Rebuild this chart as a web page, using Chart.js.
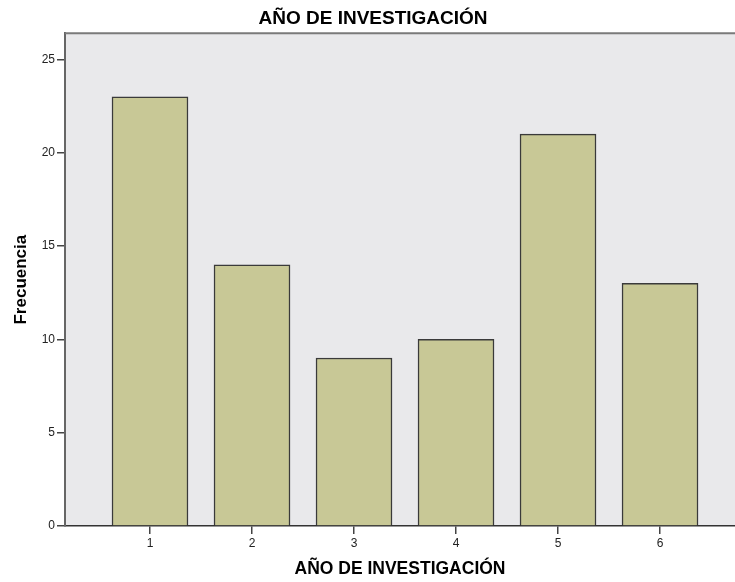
<!DOCTYPE html>
<html>
<head>
<meta charset="utf-8">
<script src="https://cdn.jsdelivr.net/npm/chart.js@4/dist/chart.umd.min.js"></script>
<style>
  html, body { margin: 0; padding: 0; background: #ffffff; }
  canvas { display: block; }
</style>
</head>
<body>
<canvas id="c" width="735" height="582"></canvas>
<script>
const categories = [1, 2, 3, 4, 5, 6];
const frecuencia = [23, 14, 9, 10, 21, 13];
const yTicks = [0, 5, 10, 15, 20, 25];
const chartTitle = 'AÑO DE INVESTIGACIÓN';
const xTitle = 'AÑO DE INVESTIGACIÓN';
const yTitle = 'Frecuencia';

const FONT = "'Liberation Sans', Arial, sans-serif";

const framePlugin = {
  id: 'frame',
  beforeDraw(chart) {
    const {ctx, chartArea: a} = chart;
    ctx.save();
    ctx.fillStyle = '#e9e9eb';
    ctx.fillRect(a.left, a.top, a.right - a.left, a.bottom - a.top);
    ctx.restore();
  },
  afterDraw(chart) {
    const {ctx, chartArea: a} = chart;
    ctx.save();
    ctx.strokeStyle = '#7a7a7a';
    ctx.lineWidth = 2;
    ctx.beginPath();
    ctx.moveTo(a.left, a.top);
    ctx.lineTo(a.right, a.top);
    ctx.stroke();
    ctx.restore();
  }
};

new Chart(document.getElementById('c'), {
  type: 'bar',
  data: {
    datasets: [{
      data: categories.map((c, i) => ({x: c, y: frecuencia[i]})),
      backgroundColor: '#c8c896',
      borderColor: '#3a3a3a',
      borderWidth: 1.5,
      barThickness: 76
    }]
  },
  options: {
    responsive: false,
    animation: false,
    devicePixelRatio: 1,
    layout: { padding: { left: 11, right: 0, top: 0, bottom: 0 } },
    plugins: {
      legend: { display: false },
      tooltip: { enabled: false },
      title: {
        display: true,
        text: chartTitle,
        color: '#000',
        font: { family: FONT, size: 19, weight: 'bold', lineHeight: 1.2 },
        padding: { top: 7, bottom: 3.5 }
      }
    },
    scales: {
      x: {
        type: 'linear',
        min: 0.1667,
        max: 6.735,
        offset: false,
        afterFit(s) { s.height = 56; },
        afterBuildTicks(s) { s.ticks = categories.map(v => ({value: v})); },
        grid: { display: true, offset: false, drawOnChartArea: false, tickLength: 8, color: '#444', lineWidth: 1.5 },
        border: { display: true, color: '#333', width: 1.5 },
        ticks: { color: '#222', font: { family: FONT, size: 12 }, padding: 2 },
        title: {
          display: true,
          text: xTitle,
          color: '#000',
          font: { family: FONT, size: 17.5, weight: 'bold', lineHeight: 1.2 },
          padding: { top: 0, bottom: 2 }
        }
      },
      y: {
        min: 0,
        max: 26.4,
        afterFit(s) { s.width = 54; },
        afterBuildTicks(s) { s.ticks = yTicks.map(v => ({value: v})); },
        grid: { display: true, drawOnChartArea: false, tickLength: 8, color: '#444', lineWidth: 1.5 },
        border: { display: true, color: '#666', width: 2 },
        ticks: { color: '#222', font: { family: FONT, size: 12 }, padding: 2 },
        title: {
          display: true,
          text: yTitle,
          color: '#000',
          font: { family: FONT, size: 17, weight: 'bold', lineHeight: 1.2 },
          padding: { top: 0, bottom: 0 }
        }
      }
    }
  },
  plugins: [framePlugin]
});
</script>
</body>
</html>
